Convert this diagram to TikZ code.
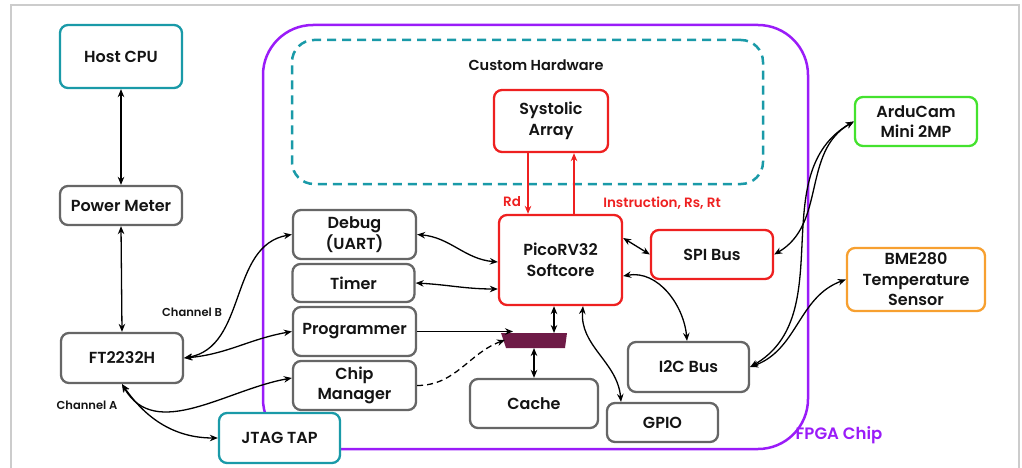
\documentclass[tikz,border=0pt]{standalone}
\usepackage{fontspec}
\setmainfont{Poppins SemiBold}
\usetikzlibrary{arrows.meta}
\definecolor{cTeal}{HTML}{1A9AA8}
\definecolor{cRed}{HTML}{EE2020}
\definecolor{cPurple}{HTML}{9A1CF8}
\definecolor{cGreen}{HTML}{44E22E}
\definecolor{cOrange}{HTML}{F7A030}
\definecolor{cGray}{HTML}{666666}
\definecolor{cFrame}{HTML}{CCCCCC}
\definecolor{cMux}{HTML}{6E1B47}
\definecolor{cText}{HTML}{141414}
\tikzset{
  box/.style={draw=cGray, fill=white, line width=2.3pt, rounded corners=8pt, align=center,
    inner sep=0pt, text=cText, font=\fontsize{16}{20.5}\selectfont},
  tip/.tip={Stealth[length=8pt,width=6.5pt]},
  darr/.style={line width=1.3pt, tip-tip},
  sarr/.style={line width=1.3pt, -tip},
  lbl/.style={inner sep=0pt, text=cText, font=\fontsize{11.5}{13}\selectfont},
  redlbl/.style={inner sep=0pt, text=cRed, font=\fontsize{13.5}{15}\selectfont},
}
\begin{document}
\begin{tikzpicture}[x=1pt,y=1pt]
\useasboundingbox (0,0) rectangle (1022,-468);
% outer frame
\draw[cFrame, line width=2pt] (11,-468) -- (11,-5) -- (1019,-5) -- (1019,-468);

% FPGA and custom-hardware regions
\node[draw=cPurple, line width=2.5pt, rounded corners=50pt, minimum width=545pt,
  minimum height=424pt] (fpga) at (535.5,-237) {};
\node[draw=cTeal, line width=2.5pt, dash pattern=on 9pt off 6pt, rounded corners=22pt,
  minimum width=471pt, minimum height=144pt] (custom) at (527.5,-112) {};
\node[lbl, font=\fontsize{14.5}{16}\selectfont] (customlbl) at (536,-65) {Custom Hardware};
\node[inner sep=0pt, text=cPurple, font=\fontsize{16.5}{18}\selectfont] (fpgalbl) at (839,-435) {FPGA Chip};

% off-chip blocks
\node[box, draw=cTeal, minimum width=122pt, minimum height=63pt] (host) at (121,-56.5) {Host CPU};
\node[box, minimum width=122pt, minimum height=39pt] (pm) at (121,-205.5) {Power Meter};
\node[box, minimum width=122pt, minimum height=50pt] (ft) at (122,-358) {FT2232H};
\node[box, draw=cTeal, minimum width=121pt, minimum height=50pt] (jtag) at (279.5,-438) {JTAG TAP};
\node[box, draw=cGreen, minimum width=122pt, minimum height=49pt] (ardu) at (916,-121.5) {ArduCam\\Mini 2MP};
\node[box, draw=cOrange, minimum width=138pt, minimum height=63pt] (bme) at (916,-279.5) {BME280\\Temperature\\Sensor};

% on-chip blocks
\node[box, draw=cRed, minimum width=114pt, minimum height=62pt] (sys) at (551,-121) {Systolic\\Array};
\node[box, draw=cRed, minimum width=123pt, minimum height=90pt] (pico) at (560.5,-260) {PicoRV32\\Softcore};
\node[box, draw=cRed, minimum width=122pt, minimum height=49pt] (spi) at (712,-254.5) {SPI Bus};
\node[box, minimum width=121pt, minimum height=50pt] (i2c) at (688.5,-367) {I2C Bus};
\node[box, minimum width=111pt, minimum height=39pt] (gpio) at (662.5,-422.5) {GPIO};
\node[box, minimum width=123pt, minimum height=49pt] (debug) at (354.5,-234.5) {Debug\\(UART)};
\node[box, minimum width=122pt, minimum height=38pt] (timer) at (353.5,-283) {Timer};
\node[box, minimum width=123pt, minimum height=49pt] (prog) at (354.5,-331.5) {Programmer};
\node[box, minimum width=123pt, minimum height=49pt] (chip) at (354.5,-385.5) {Chip\\Manager};
\node[box, minimum width=128pt, minimum height=49pt] (cache) at (534,-403.5) {Cache};

% bus multiplexer
\fill[cMux] (501,-333) -- (567,-333) -- (565,-348) -- (506,-348) -- cycle;
\coordinate (muxN) at (554,-333);
\coordinate (muxS) at (534,-348);
\coordinate (muxin) at (513,-331);
\coordinate (muxdash) at (505,-340);

% labels
\node[lbl] (chb) at (192,-312) {Channel B};
\node[lbl] (cha) at (87,-405) {Channel A};
\node[redlbl] (rdl) at (512,-202) {Rd};
\node[redlbl] (insl) at (662,-203) {Instruction, Rs, Rt};

% host side connections
\draw[darr] (host.south) -- (pm.north);
\draw[darr] (pm.south) -- (ft.north);
\draw[darr] (ft.east) to[out=10,in=190] (debug.west);
\draw[darr] (ft.east) to[out=5,in=190] (prog.west);
\draw[darr] (ft.south) to[out=-60,in=190] ([yshift=7.5]chip.west);
\draw[darr] (ft.south) to[out=-55,in=180] (jtag.west);

% core connections
\draw[darr] (debug.east) to[out=-5,in=175] ([yshift=-2]pico.west);
\draw[darr] (timer.east) to[out=-3,in=180] ([yshift=-29]pico.west);
\draw[sarr] (prog.east) -- (prog.east -| muxin);
\draw[sarr, dash pattern=on 6pt off 4pt] (chip.east) to[out=0,in=200] (muxdash);
\draw[darr] (pico.south -| muxN) -- (muxN);
\draw[darr] (muxS) -- (cache.north);
\draw[sarr, cRed] ([xshift=-23]sys.south) -- ([xshift=-23]sys.south |- pico.north);
\draw[sarr, cRed] ([xshift=23]sys.south |- pico.north) -- ([xshift=23]sys.south);
\draw[darr] ([yshift=22]pico.east) -- (spi.west);
\draw[darr] ([yshift=-16]pico.east) to[out=10,in=95] ([xshift=-1.5]i2c.north);
\draw[darr] ([xshift=22.5]pico.south) to[out=-95,in=95] ([xshift=-41.5]gpio.north);

% peripheral links
\draw[darr] (spi.east) to[out=30,in=210] (ardu.west);
\draw[darr] (i2c.east) to[out=30,in=210] (ardu.west);
\draw[darr] (i2c.east) to[out=20,in=200] (bme.west);
\end{tikzpicture}
\end{document}
